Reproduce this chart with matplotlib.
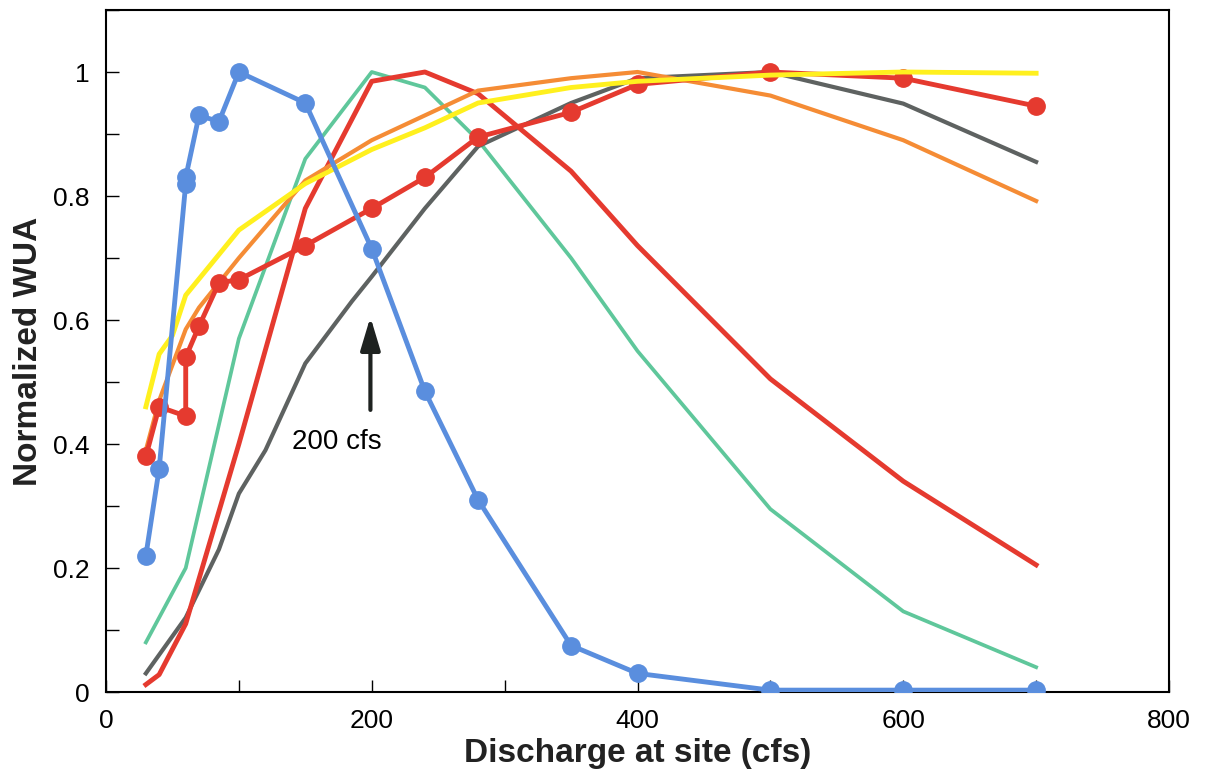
import matplotlib
matplotlib.use("Agg")
import matplotlib.pyplot as plt
from matplotlib.ticker import MultipleLocator, FixedLocator

plt.rcParams['font.family'] = ['Liberation Sans', 'DejaVu Sans']

# blue series with markers
blue_x = [30, 40, 60, 60, 70, 85, 100, 150, 200, 240, 280, 350, 400, 500, 600, 700]
blue_y = [0.22, 0.36, 0.82, 0.83, 0.93, 0.92, 1.0, 0.95, 0.715, 0.485, 0.31, 0.075, 0.03, 0.003, 0.003, 0.003]

# red series with markers
redm_x = [30, 40, 60, 60, 70, 85, 100, 150, 200, 240, 280, 350, 400, 500, 600, 700]
redm_y = [0.38, 0.46, 0.445, 0.54, 0.59, 0.66, 0.665, 0.72, 0.78, 0.83, 0.895, 0.935, 0.98, 1.0, 0.99, 0.945]

# lines without markers
green_x = [30, 60, 100, 150, 200, 240, 280, 350, 400, 500, 600, 700]
green_y = [0.08, 0.2, 0.57, 0.86, 1.0, 0.975, 0.89, 0.70, 0.55, 0.295, 0.13, 0.04]

red_x = [30, 40, 60, 100, 150, 200, 240, 280, 350, 400, 500, 600, 700]
red_y = [0.012, 0.028, 0.11, 0.40, 0.78, 0.985, 1.0, 0.965, 0.84, 0.72, 0.505, 0.34, 0.205]

gray_x = [30, 60, 85, 100, 120, 150, 185, 200, 240, 280, 350, 400, 500, 600, 700]
gray_y = [0.03, 0.12, 0.23, 0.32, 0.39, 0.53, 0.63, 0.67, 0.78, 0.88, 0.95, 0.99, 1.0, 0.949, 0.855]

orange_x = [30, 40, 60, 70, 100, 150, 200, 240, 280, 350, 400, 500, 600, 700]
orange_y = [0.39, 0.47, 0.585, 0.62, 0.70, 0.825, 0.89, 0.93, 0.97, 0.99, 1.0, 0.962, 0.89, 0.792]

yellow_x = [30, 40, 50, 60, 100, 150, 200, 240, 280, 350, 400, 500, 600, 700]
yellow_y = [0.46, 0.545, 0.575, 0.64, 0.745, 0.82, 0.875, 0.91, 0.95, 0.975, 0.985, 0.995, 1.0, 0.998]

fig = plt.figure(figsize=(12.08, 7.78), dpi=100)
ax = fig.add_axes([106/1208, 86/778, 1063/1208, 682/778])

ax.plot(green_x, green_y, color='#5fc79b', lw=2.7, zorder=2)
ax.plot(gray_x, gray_y, color='#5e6261', lw=3.0, zorder=2)
ax.plot(red_x, red_y, color='#e53a2f', lw=3.5, zorder=3)
ax.plot(orange_x, orange_y, color='#f58c35', lw=3.0, zorder=3)
ax.plot(redm_x, redm_y, color='#e53a2f', lw=3.5, marker='o', ms=12.5, zorder=4)
ax.plot(yellow_x, yellow_y, color='#fff01e', lw=3.5, zorder=5)
ax.plot(blue_x, blue_y, color='#5a8ede', lw=3.5, marker='o', ms=12.5, zorder=6)

ax.annotate('', xy=(199, 0.605), xytext=(199, 0.455),
            arrowprops=dict(arrowstyle='-|>,head_width=0.3,head_length=1.0',
                            color='#1e2220', lw=3, mutation_scale=20,
                            shrinkA=0, shrinkB=0))
ax.text(174, 0.403, '200 cfs', fontsize=20, ha='center', va='center')

ax.set_xlim(0, 800)
ax.set_ylim(0, 1.1)
ax.xaxis.set_major_locator(FixedLocator([0, 200, 400, 600, 800]))
ax.xaxis.set_minor_locator(MultipleLocator(100))
ax.yaxis.set_major_locator(FixedLocator([0, 0.2, 0.4, 0.6, 0.8, 1.0]))
ax.yaxis.set_minor_locator(MultipleLocator(0.1))
ax.set_yticklabels(['0', '0.2', '0.4', '0.6', '0.8', '1'])
ax.tick_params(which='both', direction='in', length=9, width=1)
ax.tick_params(axis='both', which='major', labelsize=19, pad=12)
ax.tick_params(axis='x', which='both', top=False)
ax.tick_params(axis='y', which='both', right=False)
for s in ax.spines.values():
    s.set_linewidth(1.5)

ax.set_xlabel('Discharge at site (cfs)', fontsize=24, fontweight='bold', color='#222')
ax.set_ylabel('Normalized WUA', fontsize=24, fontweight='bold', color='#222')
ax.xaxis.set_label_coords(0.5, -0.068)
ax.xaxis.label.set_va('top')
ax.yaxis.set_label_coords(-0.058, 0.5)

fig.savefig('out.png', dpi=100)
